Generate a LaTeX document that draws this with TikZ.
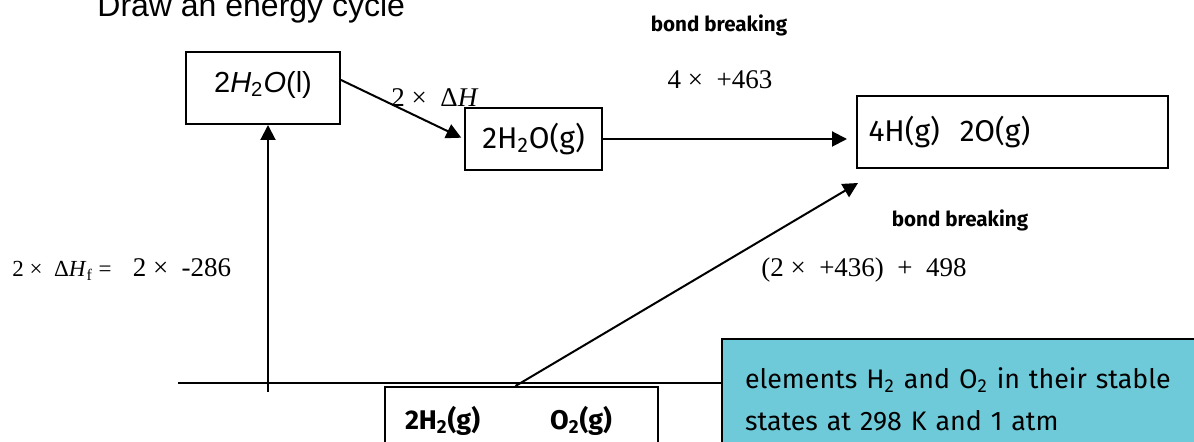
\documentclass[tikz,border=0pt]{standalone}
\usepackage{fontspec}
\setmainfont{Liberation Serif}
\setsansfont{Liberation Sans}
\newfontfamily\comicfont{Fira Sans}
\usetikzlibrary{arrows.meta, positioning, calc}
\definecolor{notecyan}{RGB}{110,202,216}
\tikzset{
    % Boxes
    box/.style      = {draw=black, line width=1pt, rectangle, inner sep=0pt},
    notebox/.style  = {box, fill=notecyan, align=left, inner xsep=11.5pt,
                       font=\comicfont\fontsize{13.4}{21}\selectfont},
    % Text
    lbl/.style      = {inner sep=0pt},
    timesf/.style   = {lbl, font=\rmfamily\fontsize{13.5}{16}\selectfont},
    comic/.style    = {font=\comicfont\fontsize{15}{17}\selectfont},
    bondlbl/.style  = {lbl, font=\comicfont\bfseries\fontsize{10.3}{12}\selectfont},
    % Edges
    arrow/.style    = {line width=1pt, -{Triangle[length=7.5pt, width=7.5pt]}},
    plain/.style    = {line width=1pt}
}
\begin{document}
\begin{tikzpicture}[x=0.5pt, y=-0.5pt]
    \useasboundingbox (0,0) rectangle (1194,442);

    \node (title) [lbl, anchor=base west, font=\sffamily\fontsize{16}{18}\selectfont] at (97,17) {Draw an energy cycle};

    % Species
    \node (liq) [box, minimum width=77pt, minimum height=36pt, font=\sffamily\fontsize{14.5}{16}\selectfont] at (263,88)
        {\raisebox{6pt}{2\textit{H}\textsubscript{2}\textit{O}(l)}\hspace{24pt}};
    \node (gas) [box, comic, minimum width=68.5pt, minimum height=31pt] at (533.5,139) {2H\textsubscript{2}O(g)};
    \node (atoms) [box, comic, minimum width=155.5pt, minimum height=36pt, text width=144pt, align=left, inner xsep=5.5pt] at (1012.5,132)
        {4H(g)\ \ 2O(g)};
    \node (elem) [box, minimum width=136.5pt, minimum height=34pt, text width=116.5pt, align=left, inner xsep=10pt,
        font=\comicfont\bfseries\fontsize{13.5}{15}\selectfont] at (521.5,421)
        {2H\textsubscript{2}(g)\hspace{35pt}O\textsubscript{2}(g)};
    \node (note) [notebox, minimum width=246.5pt, minimum height=60pt, text width=223.5pt] at (968.5,399)
        {elements H\textsubscript{2} and O\textsubscript{2} in their stable\\states at 298 K and 1 atm};

    % Labels
    \node (lblvap) [timesf] at (435,98) {2 ×\ \ Δ\textit{H}};
    \node (bbtop) [bondlbl] at (719,25) {bond breaking};
    \node (lbl463) [timesf] at (720,80) {4 ×\ \ +463};
    \node (bbright) [bondlbl] at (960,220) {bond breaking};
    \node (lbl436) [timesf] at (864,270) {(2 ×\ \ +436)\ \ +\ \ 498};
    \node (lbldhf) [lbl, font=\rmfamily\fontsize{11.5}{13}\selectfont] at (62,271) {2 ×\ \ Δ\textit{H}\textsubscript{f} =};
    \node (lbl286) [timesf] at (182,268) {2 ×\ \ -286};

    % Connectors
    \coordinate (bl) at (178,383);
    \coordinate (fbot) at (268,392);
    \coordinate (bbtip) at (858,183);
    \draw [plain] (bl) -- (bl -| note.west);
    \draw [arrow] (fbot) -- (fbot |- liq.south);
    \draw [arrow, shorten >=1.5pt] ([yshift=4pt]liq.east) -- (gas.west);
    \draw [arrow, shorten >=4.5pt] (gas.east) -- (gas.east -| atoms.west);
    \draw [arrow] ([xshift=-3pt]elem.north) -- (bbtip);
\end{tikzpicture}
\end{document}
